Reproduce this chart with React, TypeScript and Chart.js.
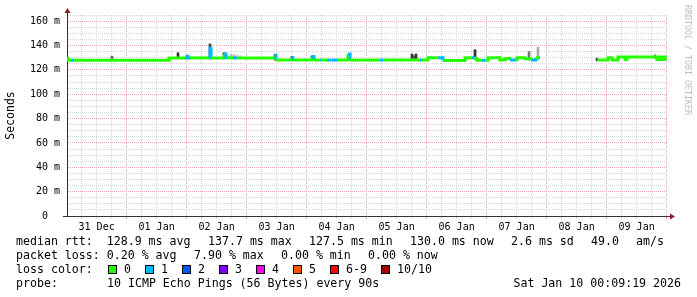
import React, { useEffect, useRef } from 'react';
import { Chart, registerables } from 'chart.js';

Chart.register(...registerables);

// ---- data ----
const dayLabels = ['31 Dec', '01 Jan', '02 Jan', '03 Jan', '04 Jan', '05 Jan', '06 Jan', '07 Jan', '08 Jan', '09 Jan'];

// hours since 31 Dec 00:00
const medianHours = [
  0.16, 0.56, 1.76, 2.96, 40.96, 47.36, 48.16, 48.56, 49.36, 56.96, 57.36, 57.76,
  62.96, 63.76, 64.16, 66.56, 68.16, 83.36, 83.76, 89.76, 90.56, 98.16, 98.96,
  101.36, 101.76, 104.16, 105.76, 106.16, 108.56, 112.56, 113.36, 125.36, 126.56,
  141.36, 142.16, 144.56, 148.56, 150.56, 159.36, 162.16, 162.96, 164.16, 166.16,
  167.36, 168.56, 173.36, 175.36, 177.36, 179.36, 180.16, 183.36, 185.76, 187.76,
  189.36, 200.0, 212.16, 216.56, 218.16, 220.56, 223.36, 224.16, 236.16, 237.36,
  238.16, 239.36, 240.16,
];
const medianMs = [
  129.5, 127.9, 127.9, 127.9, 129.8, 129.8, 131.2, 129.8, 129.8, 129.8, 137.7, 129.8,
  133.0, 130.2, 129.8, 129.8, 129.8, 132.0, 128.0, 129.8, 128.0, 131.0, 128.0,
  128.0, 128.0, 128.0, 128.0, 128.0, 128.0, 133.0, 128.0, 128.0, 128.0,
  128.0, 128.0, 130.0, 130.0, 127.7, 130.0, 130.0, 129.0, 127.8, 127.8,
  127.8, 130.0, 128.0, 129.2, 128.0, 128.5, 130.0, 129.0, 128.0, 130.0,
  130.0, null, 128.0, 130.0, 128.0, 130.5, 128.5, 130.5, 128.5, 130.5,
  128.5, 130.5, 130.5,
];
const medianLoss = [
  0, 0, 1, 0, 0, 1, 1, 1, 0, 1, 1, 0,
  1, 1, 0, 1, 0, 1, 0, 1, 0, 1, 0,
  1, 0, 1, 0, 1, 0, 1, 0, 1, 0,
  1, 0, 0, 1, 0, 0, 1, 0, 0, 1,
  0, 0, 0, 0, 1, 0, 0, 0, 1, 0,
  0, 0, 0, 0, 0, 0, 0, 0, 0, 0,
  0, 0, 0,
];

const smokeHours = [18.16, 44.56, 57.36, 62.96, 64.56, 65.76, 66.96, 68.16, 69.36, 83.36, 90.16, 98.16, 112.96, 138.16, 138.96, 139.76, 163.36, 184.96, 188.56, 212.16, 235.36, 236.56];
const smokeLow = [127.5, 129.5, 130.0, 129.0, 129.5, 129.5, 129.5, 129.5, 129.5, 128.0, 127.5, 128.0, 128.0, 128.0, 128.0, 128.0, 129.0, 128.0, 128.5, 127.5, 129.0, 128.0];
const smokeHigh = [131.2, 134.0, 141.3, 134.0, 131.5, 132.5, 132.5, 132.0, 131.5, 132.5, 131.0, 131.5, 133.0, 133.0, 131.5, 133.0, 136.5, 135.0, 138.5, 129.5, 132.5, 130.5];
const smokeShade = ['#666', '#333', '#444', '#444', '#bbb', '#bbb', '#bbb', '#ccc', '#ccc', '#334', '#333', '#444', '#333', '#333', '#555', '#333', '#333', '#777', '#aaa', '#333', '#999', '#444'];

const lossLabels = ['0', '1', '2', '3', '4', '5', '6-9', '10/10'];
const lossColors = ['#26ff00', '#00b8ff', '#0059ff', '#7e00ff', '#ff00ff', '#ff5500', '#ff0000', '#a10000'];

const rttStats = ['median rtt:  128.9 ms avg', '137.7 ms max', '127.5 ms min', '130.0 ms now', '2.6 ms sd', '49.0', 'am/s'];
const lossStats = ['packet loss: 0.20 % avg', '7.90 % max', '0.00 % min', '0.00 % now'];
const lossTitle = 'loss color:';
const probeTitle = 'probe:';
const probeText = '10 ICMP Echo Pings (56 Bytes) every 90s';
const stampText = 'Sat Jan 10 00:09:19 2026';
const yTitle = 'Seconds';
const watermark = 'RRDTOOL / TOBI OETIKER';

// ---- style ----
const mono = 'DejaVu Sans Mono';
const axisColor = '#333333';
const arrowColor = '#8f1d1d';
const minorGrid = '#d6d6d6';
const majorGrid = '#e8a8a8';
const CH = 7; // legend char width
const GAP = 17;

const xGrid: number[] = [];
for (let h = 6; h <= 240; h += 6) xGrid.push(h);
const yGrid: number[] = [];
for (let v = 0; v <= 165; v += 5) yGrid.push(v);

const arrowPlugin = {
  id: 'axisArrows',
  afterDraw(chart: any) {
    const { ctx, chartArea: a } = chart;
    ctx.save();
    ctx.strokeStyle = axisColor;
    ctx.lineWidth = 1;
    const lx = Math.round(a.left) + 0.5;
    const by = Math.round(a.bottom) + 0.5;
    ctx.beginPath();
    ctx.moveTo(lx, a.top);
    ctx.lineTo(lx, a.top - 3);
    ctx.moveTo(a.right, by);
    ctx.lineTo(a.right + 3, by);
    ctx.stroke();
    ctx.fillStyle = arrowColor;
    ctx.beginPath();
    ctx.moveTo(lx - 3, a.top - 2);
    ctx.lineTo(lx + 3, a.top - 2);
    ctx.lineTo(lx, a.top - 7);
    ctx.closePath();
    ctx.fill();
    ctx.beginPath();
    ctx.moveTo(a.right + 3, by - 3);
    ctx.lineTo(a.right + 3, by + 3);
    ctx.lineTo(a.right + 8, by);
    ctx.closePath();
    ctx.fill();
    ctx.restore();
  },
};

function positions(items: string[], start: number, gap: number, extra = 0) {
  const out: number[] = [];
  let x = start;
  items.forEach((s) => {
    out.push(x);
    x += s.length * CH + gap + extra;
  });
  return out;
}

export default function App() {
  const ref = useRef<HTMLCanvasElement>(null);

  useEffect(() => {
    const canvas = ref.current;
    if (!canvas) return;
    const chart = new Chart(canvas, {
      type: 'line',
      data: {
        datasets: [
          {
            type: 'bar',
            data: smokeHours.map((h, i) => ({ x: h, y: [smokeLow[i], smokeHigh[i]] })) as any,
            backgroundColor: smokeShade,
            borderWidth: 0,
            barThickness: 2,
            grouped: false,
            order: 2,
          } as any,
          {
            type: 'line',
            data: medianHours.map((h, i) => ({ x: h, y: medianMs[i] })) as any,
            borderColor: lossColors[0],
            borderWidth: 3,
            pointRadius: 0,
            stepped: true,
            spanGaps: false,
            borderCapStyle: 'butt',
            borderJoinStyle: 'miter',
            segment: {
              borderColor: (c: any) => lossColors[medianLoss[c.p0DataIndex]],
            },
            order: 1,
          } as any,
        ],
      },
      options: {
        responsive: false,
        animation: false,
        devicePixelRatio: 1,
        events: [],
        layout: { padding: { top: 15, right: 30, bottom: 62, left: 0 } },
        plugins: { legend: { display: false }, tooltip: { enabled: false } },
        scales: {
          x: {
            type: 'linear',
            min: 0.155,
            max: 240.155,
            bounds: 'data',
            offset: false,
            afterBuildTicks: (s: any) => {
              s.ticks = xGrid.map((v) => ({ value: v }));
            },
            afterFit: (s: any) => {
              s.height = 19;
            },
            ticks: {
              autoSkip: false,
              maxRotation: 0,
              minRotation: 0,
              padding: 2,
              color: '#000',
              font: { family: mono, size: 10 },
              callback: (v: any) => (v % 24 === 12 ? dayLabels[(v - 12) / 24] : ''),
            },
            grid: {
              offset: false,
              color: (c: any) => (c.tick && c.tick.value % 24 === 0 ? majorGrid : minorGrid),
              tickColor: (c: any) => (c.tick && c.tick.value % 24 === 0 ? majorGrid : minorGrid),
              tickLength: 3,
            },
            border: { color: axisColor, dash: [1, 1] },
          },
          y: {
            type: 'linear',
            min: 0,
            max: 165,
            bounds: 'data',
            afterBuildTicks: (s: any) => {
              s.ticks = yGrid.map((v) => ({ value: v }));
            },
            afterFit: (s: any) => {
              s.width = 67;
            },
            ticks: {
              autoSkip: false,
              padding: 3,
              color: '#000',
              font: { family: mono, size: 10 },
              callback: (v: any) => (v % 20 === 0 ? (v === 0 ? '0  ' : `${v} m`) : ''),
            },
            grid: {
              color: (c: any) => (c.tick && c.tick.value % 20 === 0 ? majorGrid : minorGrid),
              tickColor: (c: any) => (c.tick && c.tick.value === 0 ? axisColor : 'rgba(0,0,0,0)'),
              tickLength: 4,
            },
            border: { color: axisColor, dash: [1, 1] },
            title: {
              display: true,
              text: yTitle,
              color: '#000',
              font: { family: mono, size: 11.5 },
              padding: { top: 4, bottom: 4 },
            },
          },
        },
      } as any,
      plugins: [arrowPlugin],
    });
    return () => chart.destroy();
  }, []);

  const textStyle = (left: number, center: number): React.CSSProperties => ({
    position: 'absolute',
    left,
    top: center - 7,
    height: 14,
    lineHeight: '14px',
    fontSize: 11.6,
    whiteSpace: 'pre',
    color: '#000',
  });

  const rttX = positions(rttStats, 16, GAP);
  const lossX = positions(lossStats, 16, GAP);
  const boxX = positions(lossLabels, 108, 14, 16);

  return (
    <div
      style={{
        position: 'fixed',
        left: 0,
        top: 0,
        width: 697,
        height: 297,
        background: '#fff',
        overflow: 'hidden',
        fontFamily: `"${mono}", monospace`,
      }}
    >
      <canvas ref={ref} width={697} height={297} style={{ position: 'absolute', left: 0, top: 0, width: 697, height: 297 }} />
      {rttStats.map((s, i) => (
        <span key={'r' + i} style={textStyle(rttX[i], 241)}>{s}</span>
      ))}
      {lossStats.map((s, i) => (
        <span key={'l' + i} style={textStyle(lossX[i], 255)}>{s}</span>
      ))}
      <span style={textStyle(16, 269)}>{lossTitle}</span>
      {lossLabels.map((s, i) => (
        <React.Fragment key={'c' + i}>
          <span
            style={{
              position: 'absolute',
              left: boxX[i],
              top: 265,
              width: 9,
              height: 9,
              boxSizing: 'border-box',
              border: '1px solid #000',
              background: lossColors[i],
            }}
          />
          <span style={textStyle(boxX[i] + 16, 269)}>{s}</span>
        </React.Fragment>
      ))}
      <span style={textStyle(16, 283)}>{probeTitle}</span>
      <span style={textStyle(107, 283)}>{probeText}</span>
      <span style={{ ...textStyle(0, 283), left: undefined, right: 16 }}>{stampText}</span>
      <span
        style={{
          position: 'absolute',
          left: 683,
          top: 5,
          writingMode: 'vertical-rl',
          fontSize: 8.3,
          lineHeight: '10px',
          color: '#bdbdbd',
          whiteSpace: 'pre',
        }}
      >
        {watermark}
      </span>
    </div>
  );
}
